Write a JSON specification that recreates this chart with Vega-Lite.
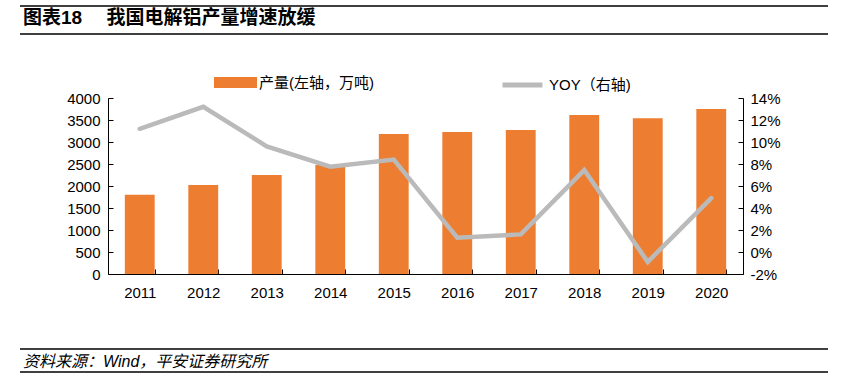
{
  "$schema": "https://vega.github.io/schema/vega-lite/v6.json",
  "autosize": "none",
  "width": 635,
  "height": 176,
  "padding": {"left": 108, "top": 98, "right": 116, "bottom": 108},
  "background": "white",
  "config": {
    "view": {"stroke": null},
    "font": "Liberation Sans, Noto Sans CJK SC",
    "axis": {"labelFont": "Liberation Sans, Noto Sans CJK SC", "labelFontSize": 15, "labelColor": "#000", "domainColor": "#000", "tickColor": "#000", "grid": false, "title": null},
    "legend": {"labelFont": "Liberation Sans, Noto Sans CJK SC", "labelFontSize": 15, "labelColor": "#000"}
  },
  "data": {"values": [
    {"year": "2011", "output": 1800, "yoy": 0.112},
    {"year": "2012", "output": 2020, "yoy": 0.132},
    {"year": "2013", "output": 2250, "yoy": 0.096},
    {"year": "2014", "output": 2480, "yoy": 0.0775},
    {"year": "2015", "output": 3180, "yoy": 0.084},
    {"year": "2016", "output": 3227, "yoy": 0.013},
    {"year": "2017", "output": 3273, "yoy": 0.016},
    {"year": "2018", "output": 3614, "yoy": 0.0745},
    {"year": "2019", "output": 3538, "yoy": -0.009},
    {"year": "2020", "output": 3750, "yoy": 0.049}
  ]},
  "encoding": {
    "x": {"field": "year", "type": "ordinal", "scale": {"paddingInner": 0.53, "paddingOuter": 0.265},
      "axis": {"labelAngle": 0, "tickBand": "extent", "tickSize": -5, "labelPadding": 23, "labelBaseline": "middle"}}
  },
  "layer": [
    {
      "mark": {"type": "bar", "color": "#ED7D31"},
      "encoding": {
        "y": {"field": "output", "type": "quantitative", "scale": {"domain": [0, 4000], "nice": false},
          "axis": {"orient": "left", "values": [0, 500, 1000, 1500, 2000, 2500, 3000, 3500, 4000], "format": "d", "tickSize": -5, "labelPadding": 13}},
        "color": {"datum": "产量(左轴，万吨)", "scale": {"range": ["#ED7D31"]},
          "legend": {"orient": "none", "legendX": 106, "legendY": -37, "padding": 0, "title": null, "labelOffset": 2,
            "symbolType": "M-1,-0.256H1V0.256H-1Z", "symbolSize": 1849, "symbolStrokeWidth": 0, "symbolOpacity": 1}}
      }
    },
    {
      "mark": {"type": "line", "color": "#BABABA", "strokeWidth": 4.5, "strokeCap": "round"},
      "encoding": {
        "y": {"field": "yoy", "type": "quantitative", "scale": {"domain": [-0.02, 0.14], "nice": false},
          "axis": {"orient": "right", "values": [-0.02, 0, 0.02, 0.04, 0.06, 0.08, 0.1, 0.12, 0.14], "labelExpr": "round(datum.value*100) + '%'", "tickSize": -5, "labelPadding": 12}},
        "color": {"datum": "YOY（右轴)", "scale": {"range": ["#BABABA"]},
          "legend": {"orient": "none", "legendX": 392, "legendY": -35.5, "padding": 0, "title": null, "labelOffset": 4,
            "symbolType": "stroke", "symbolSize": 1600, "symbolStrokeWidth": 5}}
      }
    },
    {
      "data": {"values": [{}]},
      "mark": {"type": "text", "align": "left", "baseline": "middle", "fontSize": 19, "fontWeight": "bold", "font": "Liberation Sans, Noto Sans CJK SC", "color": "#000"},
      "encoding": {"x": {"value": -85}, "y": {"value": -80}, "text": {"value": "图表18\u3000\u00a0我国电解铝产量增速放缓"}}
    },
    {
      "data": {"values": [{}]},
      "mark": {"type": "text", "align": "left", "baseline": "middle", "fontSize": 16, "fontStyle": "italic", "font": "Liberation Sans, Noto Sans CJK SC", "color": "#000"},
      "encoding": {"x": {"value": -85}, "y": {"value": 264}, "text": {"value": "资料来源：Wind，平安证券研究所"}}
    },
    {
      "data": {"values": [{}]},
      "mark": {"type": "rule", "color": "#000", "strokeWidth": 1.5},
      "encoding": {"x": {"value": -88}, "x2": {"value": 720}, "y": {"value": -92}}
    },
    {
      "data": {"values": [{}]},
      "mark": {"type": "rule", "color": "#000", "strokeWidth": 1.5},
      "encoding": {"x": {"value": -88}, "x2": {"value": 720}, "y": {"value": -64}}
    },
    {
      "data": {"values": [{}]},
      "mark": {"type": "rule", "color": "#000", "strokeWidth": 1.5},
      "encoding": {"x": {"value": -88}, "x2": {"value": 720}, "y": {"value": 251}}
    },
    {
      "data": {"values": [{}]},
      "mark": {"type": "rule", "color": "#000", "strokeWidth": 1.5},
      "encoding": {"x": {"value": -88}, "x2": {"value": 720}, "y": {"value": 274}}
    }
  ],
  "resolve": {"scale": {"y": "independent", "color": "independent"}}
}
